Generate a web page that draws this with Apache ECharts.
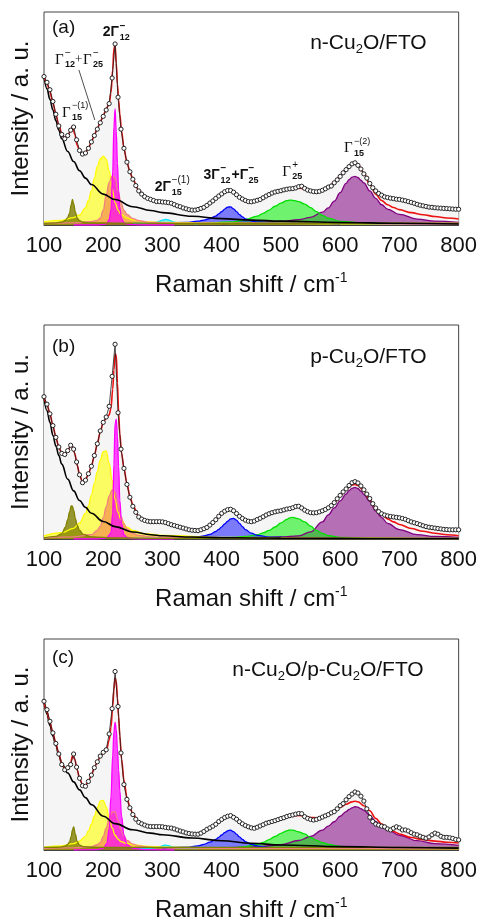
<!DOCTYPE html>
<html>
<head>
<meta charset="utf-8">
<script src="https://cdn.jsdelivr.net/npm/echarts@6/dist/echarts.min.js"></script>
<style>
  html, body { margin: 0; padding: 0; background: #fff; }
  #chart { width: 480px; height: 923px; }
</style>
</head>
<body>
<div id="chart"></div>
<script>
// Raman shift grid of the measured points (cm-1)
const shift = []
for (let s = 100; s <= 800; s += 5) shift.push(s)

// measured spectra (open circles), one per panel
const dataA = [
  69.7, 67, 63.5, 58, 52, 46.5, 42.5, 40.5, 42, 44.5,
  46, 40, 35, 33.3, 33.8, 36, 39, 42, 45, 48,
  51, 54, 57, 69, 85, 60, 45, 36, 29.5, 25,
  21.5, 18.5, 16, 14.5, 13.3, 12.5, 12, 11.5, 11, 11,
  10.8, 10.7, 10.5, 10.2, 9.6, 9, 8.6, 8, 7.6, 7.2,
  7, 7, 7.3, 7.8, 8.3, 9.2, 10.3, 11.3, 12.5, 13.6,
  14.6, 15.6, 16.2, 16.2, 15.4, 14.2, 13, 12.2, 11.5, 11,
  10.9, 11.2, 11.6, 12, 12.8, 13.6, 14.3, 15, 15.5, 15.8,
  16.1, 16.5, 16.8, 17, 17.1, 17.4, 18, 18.2, 17.2, 16.4,
  16, 15.7, 15.6, 15.8, 16.3, 17, 17.8, 18.3, 19.8, 21.2,
  22.8, 24.5, 26, 27.4, 28.7, 29.2, 28, 26.3, 24, 22,
  19.5, 17.5, 16, 14.8, 14, 13.2, 12.9, 12.6, 12.4, 12.1,
  12, 11.7, 11.4, 11, 10.6, 10.2, 9.7, 9.3, 9, 8.7,
  8.4, 8.3, 8.1, 8, 7.9, 7.8, 7.7, 7.6, 7.5, 7.4,
  7.4
]
const dataB = [
  66.5, 63, 58.5, 53, 47.5, 43, 40, 39.5, 41.3, 43.8,
  42, 36, 30, 26.3, 27.5, 30.5, 34, 39, 44.5, 50.5,
  54.5, 57, 62, 76, 91, 59, 42, 33, 25.5, 19.5,
  15.3, 12.5, 10.3, 9.3, 8.7, 8.3, 8.1, 8.1, 8.1, 8.1,
  8, 7.7, 7.2, 6.7, 6.3, 5.9, 5.5, 5.1, 4.7, 4.3,
  4.1, 4, 3.9, 4.3, 4.8, 5.4, 6.5, 7.7, 9, 10.6,
  12, 13, 13.7, 13.9, 13.2, 11.9, 10.6, 9.6, 8.8, 8.3,
  8.1, 8.4, 9.1, 9.7, 10.4, 11.2, 11.8, 12.3, 12.7, 13,
  13.2, 13.6, 14, 14.2, 14.6, 15.2, 15.3, 14.5, 13.5, 12.8,
  12.3, 12.2, 12.3, 12.7, 13.2, 13.8, 14.6, 15.6, 17, 18.8,
  20.4, 22, 23.4, 25, 26.3, 26.8, 26.2, 24.8, 23, 21,
  18.9, 16.5, 14.5, 12.8, 11.8, 11.2, 10.8, 10.5, 10.3, 10.1,
  9.9, 9.6, 9.2, 8.6, 8, 7.6, 7.2, 6.7, 6.2, 5.8,
  5.5, 5.3, 5.1, 4.9, 4.7, 4.5, 4.4, 4.3, 4.3, 4.3,
  4.3
]
const dataC = [
  70.5, 66.5, 61, 55.5, 50.5, 45.5, 40.5, 38, 39, 40.5,
  45.5, 39.3, 34, 30.5, 30.2, 32.5, 35.5, 39, 41.8, 44.5,
  46.3, 47.5, 55, 67, 84.6, 68, 46, 31, 24, 20,
  16.8, 14.6, 13.1, 12.4, 11.8, 11.3, 11.1, 11.1, 11.1, 11.1,
  11, 10.7, 10.5, 10.4, 10, 9.5, 9, 8.6, 8.1, 7.8,
  7.6, 7.5, 7.5, 8, 8.8, 9.8, 10.5, 11.3, 12.2, 13.5,
  14.5, 15.4, 16, 16.3, 15.5, 14.6, 13.4, 12.4, 11.6, 11,
  10.5, 10.3, 10.8, 11.4, 12, 12.7, 13.1, 13.5, 13.9, 14.4,
  14.9, 15.3, 15.9, 16.3, 16.6, 17, 17.3, 17.2, 15.8, 15,
  14.5, 14.2, 14.5, 15, 15.6, 16.2, 16.8, 17.6, 18.2, 19.5,
  21, 22, 23.8, 25.3, 26.5, 27.5, 27, 25.5, 23.2, 19.5,
  15.5, 13.5, 12.3, 11.8, 11.3, 11, 10, 9.5, 10.3, 11,
  10.5, 9.5, 9.5, 9, 8.2, 7.5, 7.2, 6.5, 6, 5.6,
  6.2, 7.2, 8, 7.5, 6.5, 6, 6, 5.8, 5.5, 5,
  4.8
]

// cumulative fit (red)
const fitShift = [
  100, 105, 110, 115, 120, 125, 130, 135, 140, 145,
  148, 152, 156, 160, 165, 170, 175, 180, 185, 190,
  195, 200, 205, 210, 213, 216, 218, 220, 222, 224,
  226, 228, 231, 235, 240, 245, 250, 260, 270, 280,
  290, 300, 310, 320, 330, 340, 350, 360, 370, 380,
  390, 400, 410, 415, 420, 430, 440, 450, 460, 470,
  480, 490, 500, 510, 520, 530, 540, 550, 560, 570,
  580, 590, 600, 610, 620, 625, 630, 640, 650, 660,
  670, 680, 690, 700, 720, 740, 760, 780, 800
]
const fitA = [
  69.7, 66.5, 62.5, 57.5, 52, 47, 43, 41, 41.8, 44.5,
  46.5, 42.5, 37.5, 34.8, 33.3, 34, 36, 39, 42.2, 45.3,
  48.5, 51.5, 54.5, 57, 62, 73, 83, 84.5, 76, 66,
  58.5, 52, 44, 36, 29.5, 25, 21.5, 16.2, 13.3, 12,
  11.2, 10.9, 10.5, 9.6, 8.6, 7.7, 7.1, 7.3, 8.4, 10.2,
  12.5, 14.6, 16.1, 16.2, 15.5, 13.1, 11.5, 10.9, 11.5, 12.7,
  14.2, 15.4, 16, 16.6, 17, 17.3, 17, 16.3, 15.8, 16.2,
  17.6, 20, 23, 26.2, 28.6, 29, 28.3, 24.5, 19, 14.5,
  11.5, 9.5, 8.2, 7.2, 5.8, 4.8, 4, 3.3, 2.8
]
const fitB = [
  66.5, 63, 58.5, 53, 47.5, 43, 40, 39.5, 41.2, 43.6,
  43.3, 40, 34.5, 30, 26.8, 27.6, 30.4, 34, 39, 44.6,
  50, 54.5, 56.5, 58, 61, 70, 79, 86.5, 86, 73,
  59, 49, 40, 33, 26, 20, 15.8, 10.5, 8.8, 8.2,
  8.1, 8, 7.2, 6.3, 5.5, 4.7, 4.1, 4, 4.8, 6.4,
  8.9, 11.8, 13.5, 13.8, 13.3, 10.8, 8.9, 8.2, 8.9, 10.3,
  11.7, 12.7, 13.3, 14, 14.6, 15, 13.8, 12.4, 12.2, 13,
  14.4, 16.8, 20.2, 23.2, 25.2, 25.5, 25, 22.4, 18.3, 14.2,
  11.4, 9.4, 8, 6.8, 4.9, 3.6, 2.7, 2, 1.5
]
const fitC = [
  70.5, 65.5, 60.5, 55.5, 50.5, 45.5, 41, 38.5, 39, 41.5,
  44.5, 43, 38, 34, 31, 30.5, 32.5, 35.5, 38.8, 41.8,
  44.2, 45.8, 47, 52, 58, 68, 76, 81.5, 80, 72,
  63, 54, 43, 33, 25, 20.3, 17, 13.3, 11.9, 11.2,
  11, 10.9, 10.5, 10, 9.1, 8.2, 7.7, 7.7, 8.8, 10.4,
  12.4, 14.3, 15.6, 15.8, 15.3, 13.3, 11.7, 10.9, 11.1, 12,
  13, 13.9, 14.8, 15.6, 16.2, 16.4, 16, 15.4, 15.3, 15.8,
  17, 18.6, 20.2, 21.7, 22.8, 23.1, 22.9, 21, 18.6, 15,
  12.3, 10.3, 8.8, 7.6, 5.9, 4.9, 4.2, 3.7, 3.3
]

// fluorescence background (black)
const bgShift = [100, 105, 110, 115, 120, 125, 130, 140, 150, 160, 170, 180, 200, 220, 250, 280, 300, 350, 400, 450, 500, 600, 700, 800]
const bgA = [69.5, 64, 59, 54, 49, 44.5, 40.5, 34.5, 29.8, 25.5, 22, 19, 14.5, 12, 8.6, 6.8, 5.8, 4.1, 3, 2.3, 1.8, 1.2, 0.8, 0.5]
const bgB = [66, 60, 54.5, 48.5, 43.5, 39, 35, 28, 22.5, 18, 14.8, 12, 8.2, 5.8, 3.3, 2, 1.5, 0.9, 0.6, 0.5, 0.4, 0.3, 0.2, 0.2]
const bgC = [70.5, 64.5, 59, 54, 49.5, 45, 41, 36.5, 32.3, 28.5, 24.8, 21.5, 16, 12.5, 9.6, 8, 7.2, 5.7, 4.4, 3.2, 2.4, 1.6, 1.2, 0.9]

// fitted peak components
const oliveShift = [100, 120, 130, 136, 140, 143, 146, 148, 150, 153, 156, 160, 166, 180, 220, 300, 500, 800]
const oliveA = [0.8, 1, 1.4, 2.2, 3.5, 5.5, 9.5, 12, 10, 6, 3.3, 2, 1.3, 1, 0.9, 0.8, 0.8, 0.8]
const oliveB = [0.5, 1.2, 2.5, 5.5, 9, 12.5, 15.5, 15.4, 13.5, 9.5, 6.5, 4, 2.2, 1, 0.5, 0.3, 0.2, 0.2]
const oliveC = [1.2, 1.3, 1.5, 1.9, 2.6, 3.8, 6.5, 9.5, 11, 7.5, 4, 2.3, 1.6, 1.3, 1.2, 1.2, 1.2, 1.2]

const yellowShift = [100, 130, 150, 160, 170, 175, 180, 185, 190, 195, 200, 205, 210, 215, 220, 225, 230, 240, 250, 270, 300, 400, 600, 800]
const yellowA = [1.6, 2.2, 3.5, 4.7, 8, 11.5, 16, 22, 27.5, 31, 32.3, 30.9, 25.5, 17, 10.5, 7, 5, 3.3, 2.4, 1.5, 1.2, 0.9, 0.8, 0.7]
const yellowB = [1.5, 3, 5, 7.5, 12, 15.5, 20.5, 26, 31.5, 37, 40.8, 41.2, 35.5, 27.5, 18.5, 12.5, 9, 5.5, 4, 2.5, 1.7, 0.8, 0.4, 0.3]
const yellowC = [1.3, 2, 3, 4.2, 6.5, 9, 12.2, 16, 20, 23.2, 23.5, 20.5, 15.5, 10.5, 7, 5.2, 4, 3, 2.5, 1.8, 1.4, 1, 0.8, 0.7]

const orangeShift = [100, 150, 180, 190, 195, 200, 205, 210, 215, 220, 225, 230, 235, 240, 250, 260, 280, 320, 400, 800]
const orangeA = [0.8, 1, 1.6, 2.2, 3.2, 7, 14, 20, 23, 22, 16, 10.5, 7, 5, 3, 2, 1.2, 0.9, 0.8, 0.7]
const orangeB = [0.5, 1, 2, 4, 6, 10, 15, 20, 23, 22, 16, 10.5, 7, 4.8, 2.6, 1.7, 1, 0.6, 0.4, 0.2]
const orangeC = [0.8, 1, 1.6, 2.5, 3.5, 6.5, 10.5, 15, 18, 18, 14, 9.5, 6.5, 4.6, 2.8, 1.9, 1.2, 0.9, 0.8, 0.7]

const magentaShift = [150, 190, 200, 206, 210, 213, 216, 218, 220, 222, 224, 226, 228, 231, 235, 240, 250, 270, 320]
const magentaA = [0, 0, 0.3, 0.8, 2.5, 7, 25, 46, 54.5, 44, 29, 16, 8, 3, 1, 0.5, 0.2, 0, 0]
const magentaB = [0, 0, 0.3, 0.6, 1.8, 3, 12, 35, 54, 56, 48, 34, 18, 7, 2, 0.7, 0.2, 0, 0]
const magentaC = [0, 0.2, 0.8, 3, 10, 25, 45, 56, 60.5, 57, 48, 38, 28, 16, 7, 2.5, 0.8, 0.2, 0]

const cyanShift = [250, 280, 290, 295, 300, 305, 310, 315, 320, 330, 360]
const cyanA = [0.7, 0.9, 1.3, 1.8, 2.3, 2.6, 2.4, 1.8, 1.3, 0.9, 0.7]
const cyanB = [0.3, 0.3, 0.4, 0.5, 0.6, 0.6, 0.6, 0.5, 0.4, 0.3, 0.3]
const cyanC = [0.8, 0.9, 1.1, 1.5, 2, 2.3, 2.1, 1.6, 1.2, 0.9, 0.8]

const blueShift = [300, 340, 360, 370, 380, 390, 395, 400, 405, 410, 415, 420, 425, 430, 435, 440, 450, 460, 480, 520, 600]
const blueA = [0.8, 1.2, 1.8, 2.3, 3, 4.2, 5.2, 6.3, 7.5, 8.4, 8.5, 7.6, 6.3, 4.9, 3.8, 2.9, 2, 1.5, 1.1, 0.9, 0.7]
const blueB = [0.3, 0.6, 1, 1.5, 2.2, 3.5, 4.5, 5.7, 7, 8.3, 9.4, 9.6, 8.8, 7.3, 5.8, 4.4, 2.7, 1.7, 0.9, 0.5, 0.3]
const blueC = [0.8, 1.3, 2, 2.7, 3.7, 5, 6, 7.1, 8.2, 9.1, 9.4, 8.7, 7.5, 6.2, 5, 4, 2.7, 1.9, 1.2, 0.9, 0.8]

const greenShift = [380, 420, 440, 460, 470, 480, 490, 500, 510, 515, 520, 530, 540, 550, 560, 570, 580, 600, 640, 700]
const greenA = [0.8, 1.5, 2.5, 4.2, 5.5, 7, 8.8, 10.3, 11.4, 11.7, 11.6, 11, 9.8, 8.2, 6.3, 4.5, 3.2, 1.7, 0.9, 0.7]
const greenB = [0.3, 0.7, 1.2, 2, 2.9, 4, 5.6, 7.5, 9.2, 9.9, 10.1, 9.4, 8, 6, 4, 2.6, 1.6, 0.8, 0.4, 0.2]
const greenC = [0.8, 1.1, 1.6, 2.7, 3.6, 4.9, 6.4, 7.9, 9.1, 9.5, 9.4, 8.6, 7.6, 6, 4.6, 3.5, 2.7, 1.7, 1, 0.8]

const purpleShift = [400, 450, 500, 530, 550, 570, 580, 590, 600, 610, 615, 620, 625, 630, 635, 640, 650, 660, 670, 680, 700, 730, 760, 800]
const purpleA = [0.6, 1, 1.7, 2.5, 3.6, 6, 8, 11.2, 15.2, 19.5, 21.3, 22.5, 22.8, 22.3, 21, 19.8, 16, 12.5, 9.5, 7.5, 5, 2.8, 1.8, 1.2]
const purpleB = [0.3, 0.6, 1, 1.5, 3.3, 8, 11.3, 14.5, 17.8, 21, 22.6, 23.7, 24.1, 23.6, 22.4, 20.8, 17.6, 13, 10, 7.3, 4.4, 2, 1.2, 0.8]
const purpleC = [0.9, 1.3, 2.5, 4.5, 6.4, 9.4, 11.3, 13.4, 16, 18.2, 19.2, 20, 20.5, 20.3, 19.6, 18.8, 16.5, 13.5, 11.3, 9.6, 7, 4.4, 3, 2.2]

const xTicks = [100, 200, 300, 400, 500, 600, 700, 800]

const panels = [
  { tag: '(a)', name: '{t|n-Cu}{s|2}{t|O/FTO}', top: 12, height: 213, data: dataA, fit: fitA, bg: bgA,
    olive: oliveA, yellow: yellowA, orange: orangeA, magenta: magentaA, cyan: cyanA, blue: blueA, green: greenA, purple: purpleA },
  { tag: '(b)', name: '{t|p-Cu}{s|2}{t|O/FTO}', top: 325, height: 214, data: dataB, fit: fitB, bg: bgB,
    olive: oliveB, yellow: yellowB, orange: orangeB, magenta: magentaB, cyan: cyanB, blue: blueB, green: greenB, purple: purpleB },
  { tag: '(c)', name: '{t|n-Cu}{s|2}{t|O/p-Cu}{s|2}{t|O/FTO}', top: 639, height: 213, data: dataC, fit: fitC, bg: bgC,
    olive: oliveC, yellow: yellowC, orange: orangeC, magenta: magentaC, cyan: cyanC, blue: blueC, green: greenC, purple: purpleC }
]

const pairs = (xs, ys) => xs.map((x, i) => [x, ys[i]])
const ink = '#111'
const frame = '#444'

function peak (g, xs, ys, line, fill) {
  return {
    type: 'line', xAxisIndex: g, yAxisIndex: g, data: pairs(xs, ys),
    smooth: 0.4, smoothMonotone: 'x', symbol: 'none', silent: true,
    lineStyle: { color: line, width: 1.3 },
    areaStyle: { color: fill, opacity: 1 }
  }
}

const grids = []
const xAxes = []
const yAxes = []
const series = []

panels.forEach((p, g) => {
  grids.push({ left: 44, width: 416, top: p.top, height: p.height, show: true, borderColor: frame, borderWidth: 1 })
  xAxes.push({
    gridIndex: g, type: 'value', min: 100, max: 800, interval: 100,
    axisLine: { lineStyle: { color: frame, width: 1 } },
    axisTick: { inside: true, length: 5, lineStyle: { color: frame } },
    minorTick: { show: true, splitNumber: 4, length: 3, lineStyle: { color: frame } },
    splitLine: { show: false },
    axisLabel: { fontSize: 22, color: ink, margin: 10, fontFamily: 'Liberation Sans',
      formatter: v => xTicks.includes(v) ? String(v) : '' },
    name: '{a|Raman shift / cm}{s|-1}', nameLocation: 'middle', nameGap: 46,
    nameTextStyle: {
      rich: {
        a: { fontSize: 24, color: ink, fontFamily: 'Liberation Sans', lineHeight: 28 },
        s: { fontSize: 14, color: ink, fontFamily: 'Liberation Sans', lineHeight: 14, verticalAlign: 'top' }
      }
    }
  })
  yAxes.push({
    gridIndex: g, type: 'value', min: 0, max: 100,
    axisLine: { show: false }, axisTick: { show: false }, axisLabel: { show: false }, splitLine: { show: false },
    name: 'Intensity / a. u.', nameLocation: 'middle', nameGap: 11, nameRotate: 90,
    nameTextStyle: { fontSize: 24, color: ink, fontFamily: 'Liberation Sans' }
  })

  // light grey area under the measured spectrum
  series.push({
    type: 'line', xAxisIndex: g, yAxisIndex: g, data: pairs(shift, p.data), symbol: 'none', silent: true,
    lineStyle: { width: 0 }, areaStyle: { color: '#f5f5f5', opacity: 1 }
  })
  series.push(peak(g, purpleShift, p.purple, '#800080', 'rgba(128,0,128,0.55)'))
  series.push(peak(g, greenShift, p.green, '#00e000', 'rgba(0,240,0,0.55)'))
  series.push(peak(g, blueShift, p.blue, '#0000ff', 'rgba(0,0,255,0.5)'))
  series.push(peak(g, cyanShift, p.cyan, '#00e5ff', 'rgba(0,230,255,0.5)'))
  series.push(peak(g, yellowShift, p.yellow, '#ffff00', 'rgba(255,255,0,0.6)'))
  series.push(peak(g, orangeShift, p.orange, '#f08080', 'rgba(245,150,80,0.75)'))
  series.push(peak(g, magentaShift, p.magenta, '#ff00ff', 'rgba(255,0,255,0.7)'))
  series.push(peak(g, oliveShift, p.olive, '#808000', 'rgba(128,128,0,0.8)'))
  // background
  series.push({
    type: 'line', xAxisIndex: g, yAxisIndex: g, data: pairs(bgShift, p.bg), smooth: 0.4, smoothMonotone: 'x',
    symbol: 'none', silent: true, lineStyle: { color: '#000', width: 1.6 }
  })
  // fit
  series.push({
    type: 'line', xAxisIndex: g, yAxisIndex: g, data: pairs(fitShift, p.fit), smooth: 0.35, smoothMonotone: 'x',
    symbol: 'none', silent: true, lineStyle: { color: '#ee1111', width: 1.6 }
  })
  // measured points
  series.push({
    type: 'line', xAxisIndex: g, yAxisIndex: g, data: pairs(shift, p.data), silent: true,
    symbol: 'circle', symbolSize: 4.2, showAllSymbol: true,
    lineStyle: { color: '#222', width: 0.8 },
    itemStyle: { color: '#fff', borderColor: '#222', borderWidth: 1 }
  })
})

// peak assignments in panel (a): anchor [shift, intensity], pieces [text, dx, dy, size, weight, family]
const annotations = [
  { at: [199, 90.6], parts: [['2Γ', 0, 0, 14, 'bold', 'sans'], ['−', 17, -6, 10, 'bold', 'sans'], ['12', 17, 5, 9, 'bold', 'sans']] },
  { at: [118.5, 77.5], parts: [['Γ', 0, 0, 15, 'normal', 'serif'], ['−', 10, -7, 10, 'normal', 'sans'], ['12', 10, 5, 9, 'bold', 'sans'],
    ['+', 20, 0, 13, 'normal', 'serif'], ['Γ', 28, 0, 15, 'normal', 'serif'], ['−', 38, -7, 10, 'normal', 'sans'], ['25', 38, 5, 9, 'bold', 'sans']] },
  { at: [130.3, 52.6], parts: [['Γ', 0, 0, 15, 'normal', 'serif'], ['−(1)', 10, -7, 9, 'normal', 'sans'], ['15', 10, 5, 9, 'bold', 'sans']] },
  { at: [286.8, 17.8], parts: [['2Γ', 0, 0, 14, 'bold', 'sans'], ['−(1)', 17, -7, 10, 'normal', 'sans'], ['15', 17, 5, 9, 'bold', 'sans']] },
  { at: [369.2, 23.5], parts: [['3Γ', 0, 0, 14, 'bold', 'sans'], ['−', 17, -7, 10, 'bold', 'sans'], ['12', 17, 6, 9, 'bold', 'sans'],
    ['+Γ', 28, 0, 14, 'bold', 'sans'], ['−', 45, -7, 10, 'bold', 'sans'], ['25', 45, 6, 9, 'bold', 'sans']] },
  { at: [502.2, 24.9], parts: [['Γ', 0, 0, 15, 'normal', 'serif'], ['+', 10, -7, 10, 'normal', 'sans'], ['25', 10, 5, 9, 'bold', 'sans']] },
  { at: [606.5, 36.2], parts: [['Γ', 0, 0, 15, 'normal', 'serif'], ['−(2)', 10, -6, 9, 'normal', 'sans'], ['15', 10, 6, 9, 'bold', 'sans']] }
]
const leader = [[158.9, 72.8], [185.8, 49.3]]

// panel tag and sample name positions [shift, intensity]
const tagPos = [[113.5, 92.5], [113.5, 89.7], [113.5, 91]]
const namePos = [[746, 85.4], [746, 85], [741, 85.4]]

const chart = echarts.init(document.getElementById('chart'), null, { renderer: 'canvas' })
chart.setOption({
  animation: false,
  backgroundColor: '#fff',
  textStyle: { fontFamily: 'Liberation Sans' },
  grid: grids,
  xAxis: xAxes,
  yAxis: yAxes,
  series: series
})

const fam = f => f === 'serif' ? 'Liberation Serif' : 'Liberation Sans'
const graphic = []
annotations.forEach(a => {
  const [px, py] = chart.convertToPixel({ gridIndex: 0 }, a.at)
  a.parts.forEach(([text, dx, dy, size, weight, family]) => {
    graphic.push({
      type: 'text', x: px + dx, y: py + dy, silent: true, z: 100,
      style: { text, fontSize: size, fontWeight: weight, fontFamily: fam(family), fill: ink, align: 'left', verticalAlign: 'middle' }
    })
  })
})
const l0 = chart.convertToPixel({ gridIndex: 0 }, leader[0])
const l1 = chart.convertToPixel({ gridIndex: 0 }, leader[1])
graphic.push({ type: 'line', silent: true, z: 100, shape: { x1: l0[0], y1: l0[1], x2: l1[0], y2: l1[1] }, style: { stroke: '#222', lineWidth: 0.8 } })

panels.forEach((p, g) => {
  const t = chart.convertToPixel({ gridIndex: g }, tagPos[g])
  graphic.push({
    type: 'text', x: t[0], y: t[1], silent: true, z: 100,
    style: { text: p.tag, fontSize: 19, fontFamily: 'Liberation Sans', fill: ink, align: 'left', verticalAlign: 'middle' }
  })
  const n = chart.convertToPixel({ gridIndex: g }, namePos[g])
  graphic.push({
    type: 'text', x: n[0], y: n[1], silent: true, z: 100,
    style: {
      text: p.name, align: 'right', verticalAlign: 'middle',
      rich: {
        t: { fontSize: 21, fontFamily: 'Liberation Sans', fill: ink, lineHeight: 26 },
        s: { fontSize: 13, fontFamily: 'Liberation Sans', fill: ink, lineHeight: 16, verticalAlign: 'bottom' }
      }
    }
  })
})

chart.setOption({ graphic: graphic })
</script>
</body>
</html>
